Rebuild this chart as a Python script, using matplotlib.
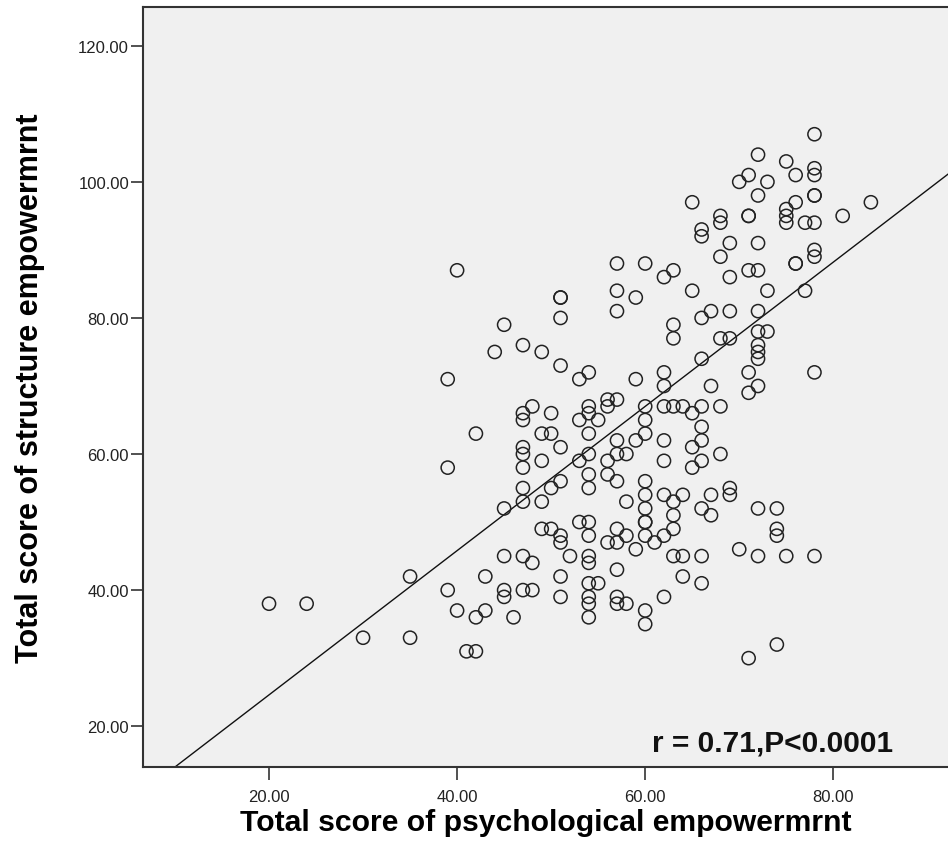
import numpy as np
import matplotlib
matplotlib.use('Agg')
import matplotlib.pyplot as plt

# psychological (x) vs structure (y) empowerment scores
psych = [20, 24, 30, 35, 35, 39, 39, 39, 40, 40, 41, 42, 42, 42, 43, 43, 44,
         45, 45, 45, 45, 45, 46,
         47, 47, 47, 47, 47, 47, 47, 47, 47, 47,
         48, 48, 48, 49, 49, 49, 49, 49, 50, 50, 50, 50,
         51, 51, 51, 51, 51, 51, 51, 51, 51, 51, 52,
         53, 53, 53, 53,
         54, 54, 54, 54, 54, 54, 54, 54, 54, 54, 54, 54, 54, 54, 54,
         55, 55, 56, 56, 56, 56, 56,
         57, 57, 57, 57, 57, 57, 57, 57, 57, 57, 57, 57,
         58, 58, 58, 58, 59, 59, 59, 59,
         60, 60, 60, 60, 60, 60, 60, 60, 60, 60, 60, 60, 61,
         62, 62, 62, 62, 62, 62, 62, 62, 62,
         63, 63, 63, 63, 63, 63, 63, 63, 64, 64, 64, 64,
         65, 65, 65, 65, 65,
         66, 66, 66, 66, 66, 66, 66, 66, 66, 66, 66,
         67, 67, 67, 67, 68, 68, 68, 68, 68, 68,
         69, 69, 69, 69, 69, 69, 70, 70,
         71, 71, 71, 71, 71, 71, 71,
         72, 72, 72, 72, 72, 72, 72, 72, 72, 72, 72, 72,
         73, 73, 73, 74, 74, 74, 74,
         75, 75, 75, 75, 75, 76, 76, 76, 76, 77, 77,
         78, 78, 78, 78, 78, 78, 78, 78, 78, 78, 81, 84]
structure = [38, 38, 33, 42, 33, 71, 58, 40, 87, 37, 31, 31, 63, 36, 42, 37, 75,
             79, 52, 45, 40, 39, 36,
             76, 66, 65, 61, 60, 58, 55, 53, 45, 40,
             67, 44, 40, 75, 63, 59, 53, 49, 66, 63, 55, 49,
             83, 83, 80, 73, 61, 56, 48, 47, 42, 39, 45,
             71, 65, 59, 50,
             72, 67, 66, 63, 60, 57, 55, 50, 48, 45, 44, 41, 39, 38, 36,
             65, 41, 68, 67, 59, 57, 47,
             68, 88, 84, 81, 62, 60, 56, 49, 47, 43, 39, 38,
             60, 53, 48, 38, 83, 71, 62, 46,
             88, 67, 65, 63, 56, 54, 52, 50, 50, 48, 37, 35, 47,
             86, 72, 70, 67, 62, 59, 54, 48, 39,
             87, 79, 77, 67, 53, 51, 49, 45, 67, 54, 45, 42,
             97, 84, 66, 61, 58,
             93, 92, 80, 74, 67, 64, 62, 59, 52, 45, 41,
             81, 70, 54, 51, 95, 94, 89, 77, 67, 60,
             91, 86, 81, 77, 55, 54, 100, 46,
             101, 95, 95, 87, 72, 69, 30,
             104, 98, 91, 87, 81, 78, 76, 75, 74, 70, 52, 45,
             100, 84, 78, 52, 49, 48, 32,
             103, 96, 95, 94, 45, 101, 97, 88, 88, 94, 84,
             107, 102, 101, 98, 98, 94, 90, 89, 72, 45, 95, 97]

# fit line as drawn in the original (intercept, slope)
fit_intercept = 3.4
fit_slope = 1.06

x_ticks = [20, 40, 60, 80]
y_ticks = [20, 40, 60, 80, 100, 120]
annot = 'r = 0.71,P<0.0001'

plt.rcParams['font.family'] = ['Liberation Sans', 'DejaVu Sans']

fig = plt.figure(figsize=(9.48, 8.62), dpi=100)
ax = fig.add_axes([143/948, 94/862, 1 - 143/948, 760/862])
ax.set_facecolor('#f0f0f0')

ax.scatter(psych, structure, s=90, facecolors='none', edgecolors='#222222', linewidths=1.1, zorder=3)

xmin, xmax = 6.6, 92.2
xl = np.array([xmin, xmax])
ax.plot(xl, fit_intercept + fit_slope*xl, color='#111111', lw=1.0, zorder=2)

ax.set_xlim(xmin, xmax)
ax.set_ylim(14.0, 125.7)
ax.set_xticks(x_ticks)
ax.set_yticks(y_ticks)
ax.set_xticklabels(['%.2f' % v for v in x_ticks])
ax.set_yticklabels(['%.2f' % v for v in y_ticks])
ax.tick_params(direction='out', length=9, width=1.2, color='#333333',
               labelsize=12, labelcolor='#222222')
ax.tick_params(axis='x', pad=7)
ax.tick_params(axis='y', pad=1)

for s in ax.spines.values():
    s.set_color('#333333')
    s.set_linewidth(1.5)
ax.spines['right'].set_visible(False)

ax.set_xlabel('Total score of psychological empowermrnt', fontsize=21.7, fontweight='bold', labelpad=3)
ax.set_ylabel('Total score of structure empowermrnt', fontsize=22, fontweight='bold', labelpad=24)

ax.text(0.632, 0.022, annot, transform=ax.transAxes, fontsize=21.5, fontweight='bold',
        ha='left', va='baseline', color='#111111')

fig.savefig('out.png', dpi=100)
